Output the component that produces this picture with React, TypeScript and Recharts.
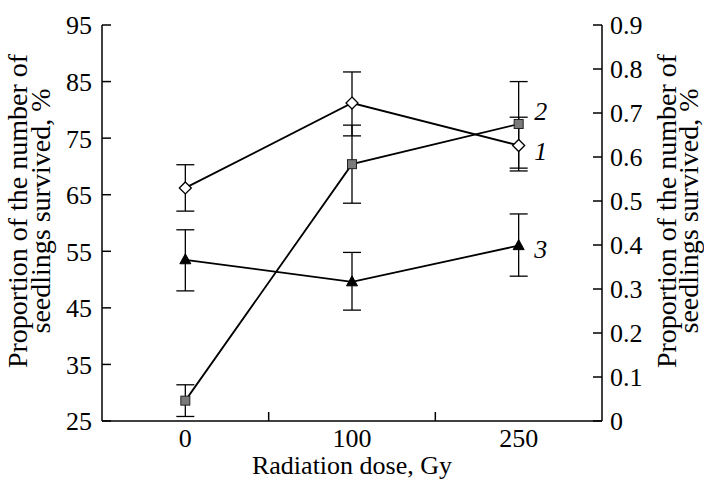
import { ErrorBar, LineChart, Line, XAxis, YAxis } from "recharts";

const doses = ["0", "100", "250"];
const tags = ["1", "2", "3"];

const s1Values = [66.2, 81.2, 73.7];
const s1Err = [[4.1, 4.1], [5.8, 5.5], [4.5, 5.0]];
const s2Values = [28.6, 70.4, 77.5];
const s2Err = [[2.8, 2.8], [6.9, 6.9], [7.8, 7.5]];
const s3Values = [53.5, 49.6, 56.0];
const s3Err = [[5.5, 5.3], [5.0, 5.2], [5.4, 5.6]];

const leftTicks = [25, 35, 45, 55, 65, 75, 85, 95];
const rightTicks = [0, 0.1, 0.2, 0.3, 0.4, 0.5, 0.6, 0.7, 0.8, 0.9];
const xTicks = [0, 0.5, 1, 1.5, 2];

const yTitle = ["Proportion of the number of", "seedlings survived, %"];
const xTitle = "Radiation dose, Gy";

const data = doses.map((d, i) => ({
  pos: i,
  dose: d,
  s1: s1Values[i],
  s1Err: s1Err[i],
  s2: s2Values[i],
  s2Err: s2Err[i],
  s3: s3Values[i],
  s3Err: s3Err[i],
}));

const FONT = "'Liberation Serif', 'Times New Roman', serif";

function DoseTick(props: any) {
  const { x, y, payload } = props;
  const v = payload.value;
  if (Number.isInteger(v)) {
    return (
      <text x={x} y={y + 26} textAnchor="middle" fill="#000" fontSize={26} fontFamily={FONT}>
        {doses[v]}
      </text>
    );
  }
  return <line x1={x} x2={x} y1={y} y2={y - 9} stroke="#000" strokeWidth={1.5} />;
}

function ValueTick(props: any) {
  const { x, y, payload, textAnchor, format } = props;
  const label = format ? format(payload.value) : String(payload.value);
  return (
    <text x={x} y={y} dy="0.36em" textAnchor={textAnchor} fill="#000" fontSize={26} fontFamily={FONT}>
      {label}
    </text>
  );
}

function Diamond(props: any) {
  const { cx, cy } = props;
  if (cx == null || cy == null) return null;
  const r = 6;
  return (
    <polygon
      points={`${cx},${cy - r} ${cx + r},${cy} ${cx},${cy + r} ${cx - r},${cy}`}
      fill="#fff"
      stroke="#000"
      strokeWidth={1.3}
    />
  );
}

function Square(props: any) {
  const { cx, cy } = props;
  if (cx == null || cy == null) return null;
  return <rect x={cx - 4.5} y={cy - 4.5} width={9} height={9} fill="#7a7a7a" stroke="#222" strokeWidth={1} />;
}

function Triangle(props: any) {
  const { cx, cy } = props;
  if (cx == null || cy == null) return null;
  return (
    <polygon points={`${cx},${cy - 6} ${cx + 5.5},${cy + 4} ${cx - 5.5},${cy + 4}`} fill="#000" stroke="#000" strokeWidth={1} />
  );
}

function tagLabel(text: string, dy: number) {
  return (props: any) => {
    const { x, y, index } = props;
    if (index !== doses.length - 1) return <g />;
    return (
      <text x={x + 22} y={y + dy} textAnchor="middle" dominantBaseline="central" fontSize={26} fontStyle="italic" fill="#000" fontFamily={FONT}>
        {text}
      </text>
    );
  };
}

function YTitle(props: any) {
  const { viewBox, side } = props;
  const vb = viewBox || { x: 0, y: 0, width: 0, height: 0 };
  const cy = vb.y + vb.height / 2 - 12;
  const xs = side === "left" ? [vb.x + 27, vb.x + 50] : [vb.x + 74, vb.x + 96];
  return (
    <g>
      {yTitle.map((t, i) => (
        <text
          key={t}
          x={xs[i]}
          y={cy}
          textAnchor="middle"
          fontSize={28}
          fill="#000"
          fontFamily={FONT}
          transform={`rotate(-90, ${xs[i]}, ${cy})`}
        >
          {t}
        </text>
      ))}
    </g>
  );
}

const fmtRight = (v: number) => (v === 0 ? "0" : v.toFixed(1));

export default function App() {
  const axisStroke = { stroke: "#000", strokeWidth: 1.5 };
  return (
    <div style={{ position: "absolute", left: 0, top: 0, width: 704, height: 479, background: "#fff", fontFamily: FONT }}>
      <LineChart width={704} height={479} data={data} margin={{ top: 25, right: 0, bottom: 0, left: 0 }}>
        <XAxis
          dataKey="pos"
          type="number"
          domain={[-0.5, 2.5]}
          ticks={xTicks}
          interval={0}
          tickLine={false}
          tickSize={0}
          tickMargin={0}
          height={58}
          axisLine={axisStroke}
          tick={<DoseTick />}
          label={{ value: xTitle, position: "insideBottom", offset: 5, fontSize: 26, fill: "#000", fontFamily: FONT }}
        />
        <YAxis
          yAxisId="left"
          orientation="left"
          width={102}
          domain={[25, 95]}
          ticks={leftTicks}
          interval={0}
          tickSize={-9}
          tickMargin={19}
          axisLine={axisStroke}
          tickLine={axisStroke}
          tick={<ValueTick />}
          label={{ content: (p: any) => <YTitle {...p} side="left" /> }}
        />
        <YAxis
          yAxisId="right"
          orientation="right"
          width={102}
          domain={[0, 0.9]}
          allowDataOverflow
          ticks={rightTicks}
          interval={0}
          tickSize={-9}
          tickMargin={17}
          axisLine={axisStroke}
          tickLine={axisStroke}
          tick={<ValueTick format={fmtRight} />}
          label={{ content: (p: any) => <YTitle {...p} side="right" /> }}
        />
        <Line
          yAxisId="left"
          dataKey="s2"
          stroke="#000"
          strokeWidth={1.8}
          dot={<Square />}
          activeDot={false}
          isAnimationActive={false}
          label={tagLabel(tags[1], -13)}
        >
          <ErrorBar dataKey="s2Err" width={9} stroke="#000" strokeWidth={1.3} direction="y" isAnimationActive={false} />
        </Line>
        <Line
          yAxisId="left"
          dataKey="s3"
          stroke="#000"
          strokeWidth={1.8}
          dot={<Triangle />}
          activeDot={false}
          isAnimationActive={false}
          label={tagLabel(tags[2], 4)}
        >
          <ErrorBar dataKey="s3Err" width={9} stroke="#000" strokeWidth={1.3} direction="y" isAnimationActive={false} />
        </Line>
        <Line
          yAxisId="left"
          dataKey="s1"
          stroke="#000"
          strokeWidth={1.8}
          dot={<Diamond />}
          activeDot={false}
          isAnimationActive={false}
          label={tagLabel(tags[0], 6)}
        >
          <ErrorBar dataKey="s1Err" width={9} stroke="#000" strokeWidth={1.3} direction="y" isAnimationActive={false} />
        </Line>
      </LineChart>
    </div>
  );
}
